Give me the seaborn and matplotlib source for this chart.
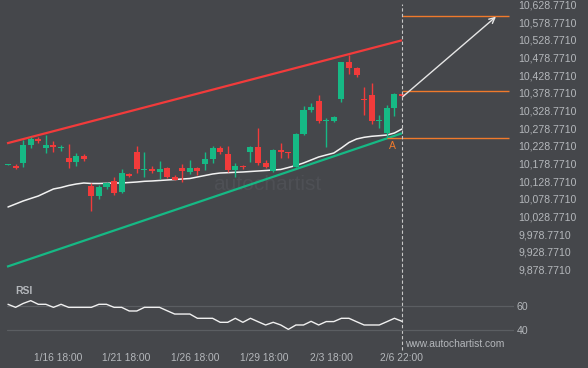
import numpy as np
import pandas as pd
import matplotlib
matplotlib.use("Agg")
import matplotlib.pyplot as plt
import seaborn as sns

# ---------------- data ----------------
opens = [10173.8, 10172.4, 10181.0, 10231.0, 10247.0, 10223.5, 10230.2, 10223.5, 10194.3, 10182.9,
         10200.8, 10115.7, 10086.5, 10112.9, 10129.1, 10097.9, 10149.8, 10211.3, 10160.2, 10163.1,
         10155.4, 10165.9, 10140.4, 10165.9, 10154.6, 10165.9, 10177.2, 10191.4, 10222.6, 10205.6,
         10160.2, 10172.4, 10211.3, 10226.3, 10181.0, 10158.3, 10216.9, 10211.3, 10169.6, 10262.3,
         10330.3, 10355.8, 10300.0, 10300.0, 10361.5, 10466.4, 10449.4, 10360.0, 10372.8, 10299.0,
         10264.3, 10336.0, 10374.8]
highs = [10176.2, 10177.2, 10245.3, 10254.6, 10254.6, 10259.4, 10242.4, 10230.2, 10233.9, 10207.6,
         10205.6, 10122.5, 10117.7, 10127.1, 10139.5, 10162.2, 10151.7, 10228.3, 10210.4, 10171.6,
         10184.8, 10169.6, 10146.1, 10177.2, 10188.6, 10169.6, 10210.4, 10228.3, 10228.3, 10228.3,
         10179.2, 10175.3, 10228.3, 10279.3, 10188.6, 10219.8, 10235.9, 10212.1, 10264.3, 10341.6,
         10349.3, 10372.8, 10307.6, 10313.0, 10467.3, 10486.2, 10452.2, 10394.6, 10406.0, 10316.1,
         10343.5, 10377.6, 10379.4]
lows = [10173.0, 10162.2, 10169.6, 10221.7, 10237.7, 10209.3, 10212.1, 10215.0, 10165.0, 10172.4,
        10186.6, 10044.9, 10077.2, 10105.5, 10089.4, 10094.2, 10141.3, 10150.9, 10140.4, 10150.9,
        10133.9, 10136.7, 10131.1, 10126.2, 10148.9, 10146.1, 10160.2, 10179.2, 10206.4, 10155.4,
        10141.3, 10162.2, 10182.1, 10174.4, 10165.0, 10155.4, 10193.4, 10193.4, 10167.9, 10260.3,
        10325.5, 10292.6, 10226.3, 10296.3, 10353.0, 10432.3, 10424.7, 10316.1, 10290.6, 10278.4,
        10252.9, 10314.2, 10366.3]
closes = [10175.3, 10166.8, 10231.1, 10248.1, 10241.6, 10231.0, 10226.3, 10226.3, 10183.8, 10199.9,
          10191.4, 10086.5, 10112.0, 10123.4, 10095.0, 10151.7, 10144.1, 10163.1, 10162.2, 10157.4,
          10163.1, 10141.3, 10132.7, 10158.3, 10166.8, 10158.3, 10191.4, 10223.5, 10212.1, 10160.2,
          10171.6, 10169.6, 10226.3, 10179.2, 10169.6, 10216.9, 10211.3, 10208.4, 10262.3, 10330.3,
          10339.7, 10300.0, 10302.0, 10311.3, 10466.4, 10449.4, 10429.5, 10357.7, 10299.1, 10301.0,
          10336.0, 10375.7, 10370.0]
ma_values = [10055.4, 10063.9, 10072.4, 10079.5, 10086.5, 10096.5, 10106.4, 10110.6, 10116.3, 10120.5,
             10123.4, 10122.0, 10122.0, 10122.5, 10123.4, 10123.4, 10124.8, 10126.2, 10128.2, 10129.1,
             10130.5, 10131.9, 10133.3, 10134.7, 10136.1, 10140.4, 10144.6, 10148.9, 10151.7, 10152.6,
             10153.7, 10154.6, 10156.0, 10157.4, 10158.8, 10160.2, 10161.7, 10167.3, 10173.0, 10180.1,
             10188.6, 10197.1, 10202.8, 10208.4, 10222.6, 10238.2, 10248.1, 10252.9, 10255.8, 10257.5,
             10259.4, 10265.1, 10276.5]
rsi_values = [61.4, 58.9, 62.1, 64.4, 61.4, 61.4, 58.9, 61.4, 58.9, 58.9,
              58.9, 58.9, 61.4, 61.4, 58.9, 58.9, 55.9, 55.9, 58.9, 58.9,
              58.9, 56.1, 53.4, 53.4, 53.4, 49.9, 49.9, 49.9, 46.6, 46.6,
              49.9, 46.6, 49.9, 47.1, 44.4, 46.6, 44.4, 40.8, 44.4, 44.4,
              47.4, 44.4, 47.2, 47.2, 49.9, 49.9, 47.1, 44.4, 44.4, 44.4,
              47.1, 49.9, 47.4]
channel_x = [-0.13, 52.0]
upper_channel = [10235.9, 10527.9]
lower_channel = [9886.1, 10264.3]
target_level = 10596.7
current_level = 10385.0
support_level = 10250.9
arrow_start = (52.1, 10368.0)
arrow_end = (64.4, 10594.8)
y_ticks = [9878.771, 9928.771, 9978.771, 10028.771, 10078.771, 10128.771, 10178.771, 10228.771,
           10278.771, 10328.771, 10378.771, 10428.771, 10478.771, 10528.771, 10578.771, 10628.771]
rsi_ticks = [40, 60]
x_tick_pos = [6.6, 15.6, 24.7, 33.8, 42.7, 51.9]
x_tick_labels = ["1/16 18:00", "1/21 18:00", "1/26 18:00", "1/29 18:00", "2/3 18:00", "2/6 22:00"]

# ---------------- style ----------------
BG = "#45474b"
GREEN = "#16b985"
RED = "#f23b3b"
TXT = "#b4b7bb"
ORANGE = "#f07a2c"
GRID = "#5b5e62"

sns.set_style("dark")
plt.rcParams["font.family"] = ["Liberation Sans", "DejaVu Sans"]

W, H = 588, 368
fig = plt.figure(figsize=(W / 100, H / 100), dpi=100, facecolor=BG)

xlim = (-8 / 7.577, (514 - 8) / 7.577)

ax = fig.add_axes([0, 1 - 278 / H, 514 / W, 278 / H])
ax2 = fig.add_axes([0, 1 - 350 / H, 514 / W, 67 / H])
for a in (ax, ax2):
    a.set_facecolor(BG)
    for s in a.spines.values():
        s.set_visible(False)
    a.set_xlim(*xlim)
    a.grid(False)
ax2.patch.set_visible(False)

ax.set_ylim(9854.1, 10642.1)
ax2.set_ylim(23.85, 78.9)

df = pd.DataFrame({"idx": np.arange(len(opens)), "open": opens, "high": highs,
                   "low": lows, "close": closes, "ma": ma_values, "rsi": rsi_values})
df["up"] = df["close"] >= df["open"]
colors = [GREEN if u else RED for u in df["up"]]

# channel lines
ax.plot(channel_x, upper_channel, color=RED, lw=1.6, solid_capstyle="butt", zorder=2)
ax.plot(channel_x, lower_channel, color=GREEN, lw=1.6, solid_capstyle="butt", zorder=2)

# moving average
sns.lineplot(data=df, x="idx", y="ma", ax=ax, color="#f2f2f2", lw=1.1, zorder=3)

# candles
ax.vlines(df["idx"], df["low"], df["high"], colors=colors, lw=1, zorder=4)
body_bottom = np.minimum(df["open"], df["close"])
body_h = np.maximum(np.abs(df["close"] - df["open"]), 2.5)
ax.bar(df["idx"], body_h, bottom=body_bottom, width=0.8, color=colors, lw=0, zorder=5)

# levels
ax.hlines(target_level, 52, 66.1, color=ORANGE, lw=1, zorder=3)
ax.hlines(current_level, 52, 66.1, color=ORANGE, lw=1, zorder=3)
ax.hlines(support_level, 50.0, 66.1, color=ORANGE, lw=1, zorder=3)
ax.text(50.7, support_level - 8, "A", color=ORANGE, fontsize=7.5, ha="center", va="top")
ax.annotate("", xy=arrow_end, xytext=arrow_start,
            arrowprops=dict(arrowstyle="->", color="#e6e6e6", lw=1, mutation_scale=10,
                            shrinkA=0, shrinkB=0), zorder=6)

# dashed vertical line
ax.axvline(52.04, ymin=-(350 - 278) / 278, ymax=1 - 4 / 278, clip_on=False,
           color="#c8c8c8", lw=0.8, ls=(0, (3, 2)), zorder=6)

# watermark
ax.text(0.415, 0.335, "autochartist", transform=ax.transAxes, fontsize=15,
        color="#4e5055", ha="left", va="center", zorder=1)

# y ticks main
ax.yaxis.tick_right()
ax.set_yticks(y_ticks)
ax.set_yticklabels([f"{v:,.4f}" for v in y_ticks])
ax.tick_params(axis="y", length=0, pad=3, labelsize=7.6, colors=TXT)
ax.set_xticks([])
ax.set_xlabel("")
ax.set_ylabel("")

# RSI panel
for lv in rsi_ticks:
    ax2.axhline(lv, xmin=7 / 514, xmax=1, color=GRID, lw=0.9, zorder=1)
sns.lineplot(data=df, x="idx", y="rsi", ax=ax2, color="#f0f0f0", lw=1, zorder=3)
ax2.yaxis.tick_right()
ax2.set_yticks(rsi_ticks)
ax2.set_yticklabels([str(v) for v in rsi_ticks])
ax2.tick_params(axis="y", length=0, pad=2, labelsize=7.6, colors=TXT)
ax2.set_xticks(x_tick_pos)
ax2.set_xticklabels(x_tick_labels)
ax2.tick_params(axis="x", length=0, pad=2, labelsize=7.4, colors=TXT)
ax2.set_xlabel("")
ax2.set_ylabel("")

fig.text(15 / W, 1 - 291 / H, "RSI", fontsize=7.5, fontweight="bold", color=TXT,
         ha="left", va="center")
fig.text(405 / W, 1 - 344 / H, "www.autochartist.com", fontsize=7.4, color=TXT,
         ha="left", va="center")

fig.savefig("out.png", dpi=100, facecolor=BG)
